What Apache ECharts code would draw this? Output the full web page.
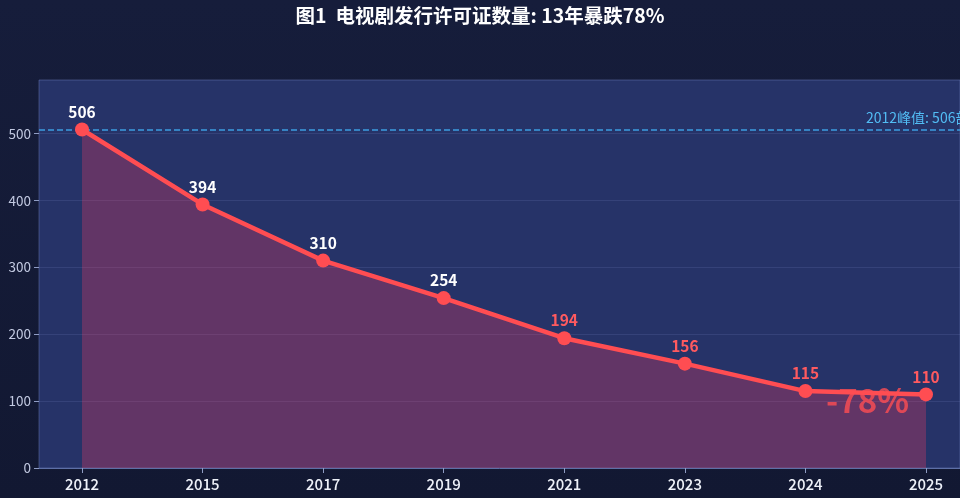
<!DOCTYPE html>
<html>
<head>
<meta charset="utf-8">
<script src="https://cdn.jsdelivr.net/npm/echarts@6/dist/echarts.min.js"></script>
<style>
  html, body { margin: 0; padding: 0; background: #141a36; }
  #main { width: 960px; height: 498px; }
</style>
</head>
<body>
<div id="main"></div>
<script>
// data
var years = ['2012', '2015', '2017', '2019', '2021', '2023', '2024', '2025'];
var licences = [506, 394, 310, 254, 194, 156, 115, 110];
var yTicks = [0, 100, 200, 300, 400, 500];
var peakValue = 506;
var dropText = '-78%';

var chart = echarts.init(document.getElementById('main'));

var seriesData = licences.map(function (v, i) {
  return {
    value: v,
    label: { color: i < 4 ? '#ffffff' : '#ff5a5f' }
  };
});

var option = {
  backgroundColor: new echarts.graphic.LinearGradient(0, 0, 0, 1, [
    { offset: 0, color: '#161d3b' },
    { offset: 1, color: '#121832' }
  ]),
  title: {
    text: '图1  电视剧发行许可证数量: 13年暴跌78%',
    left: 'center',
    top: 1,
    textStyle: {
      color: '#ffffff',
      fontSize: 19.5,
      fontWeight: 'bold',
      fontFamily: 'Noto Sans CJK SC'
    }
  },
  grid: [
    {
      // background panel, wider than the view
      left: 39, top: 80, right: -80, bottom: 30,
      show: true,
      backgroundColor: '#263368',
      borderColor: 'rgba(110,130,190,0.45)',
      borderWidth: 1
    },
    {
      left: 82, top: 80, right: 34, bottom: 30
    }
  ],
  xAxis: [
    {
      gridIndex: 0,
      type: 'value',
      min: 0, max: 1,
      axisLine: { show: true, lineStyle: { color: '#5d6fa6', width: 1 } },
      axisTick: { show: false },
      axisLabel: { show: false },
      splitLine: { show: false }
    },
    {
      gridIndex: 1,
      type: 'category',
      data: years,
      boundaryGap: false,
      axisLine: { show: false },
      axisTick: { show: true, length: 5, lineStyle: { color: '#8f9cc4' } },
      axisLabel: {
        color: '#eef1f9',
        fontSize: 15,
        fontWeight: 500,
        margin: 9,
        fontFamily: 'Noto Sans CJK SC'
      },
      splitLine: { show: false }
    }
  ],
  yAxis: [
    {
      gridIndex: 0,
      type: 'value',
      min: 0, max: 580, interval: 100,
      axisLine: { show: false },
      axisTick: { show: true, length: 5, customValues: yTicks, lineStyle: { color: '#8f9cc4' } },
      axisLabel: {
        color: '#c3cae2',
        fontSize: 13.5,
        margin: 8,
        customValues: yTicks,
        fontFamily: 'Noto Sans CJK SC'
      },
      splitLine: { show: true, lineStyle: { color: 'rgba(120,140,200,0.18)' } }
    },
    {
      gridIndex: 1,
      type: 'value',
      min: 0, max: 580, interval: 100,
      show: false
    }
  ],
  series: [
    {
      type: 'line',
      xAxisIndex: 0,
      yAxisIndex: 0,
      data: [],
      silent: true,
      markLine: {
        symbol: 'none',
        silent: true,
        lineStyle: { color: '#3d9de0', type: 'dashed', width: 1.5, opacity: 1 },
        label: {
          position: 'insideStartTop',
          formatter: '2012峰值: ' + peakValue + '部',
          color: '#52bdf5',
          fontSize: 14,
          fontFamily: 'Noto Sans CJK SC',
          distance: [827, 5]
        },
        data: [{ yAxis: peakValue }]
      }
    },
    {
      type: 'line',
      xAxisIndex: 1,
      yAxisIndex: 1,
      data: seriesData,
      symbol: 'circle',
      symbolSize: 14,
      itemStyle: { color: '#ff4d52' },
      lineStyle: { color: '#ff4d52', width: 4.5 },
      areaStyle: { color: 'rgba(255, 62, 98, 0.4)' },
      label: {
        show: true,
        position: 'top',
        distance: 3,
        fontSize: 15.5,
        fontWeight: 'bold',
        fontFamily: 'Noto Sans CJK SC'
      },
      z: 5
    }
  ],
  graphic: [
    {
      type: 'text',
      left: 826,
      top: 384,
      z: 10,
      style: {
        text: dropText,
        fill: 'rgba(255,77,82,0.8)',
        fontSize: 33,
        fontWeight: 'bold',
        fontFamily: 'Noto Sans CJK SC'
      }
    }
  ]
};

chart.setOption(option);
</script>
</body>
</html>
